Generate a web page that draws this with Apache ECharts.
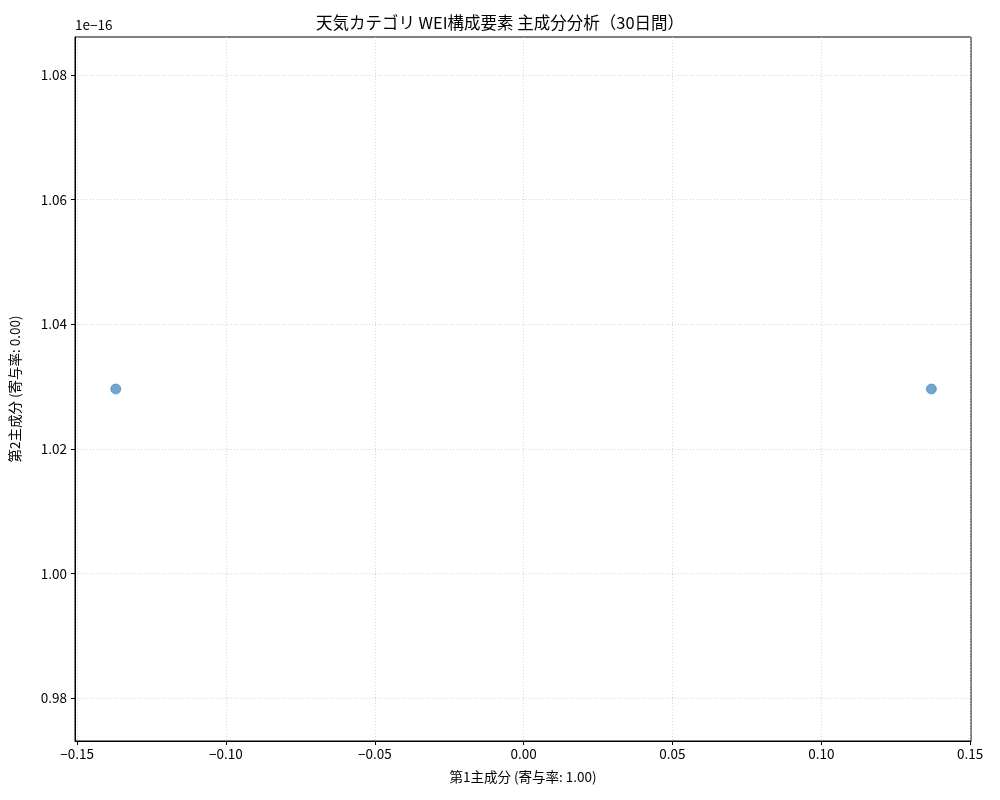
<!DOCTYPE html>
<html>
<head>
<meta charset="utf-8">
<script src="https://cdn.jsdelivr.net/npm/echarts@6/dist/echarts.min.js"></script>
<style>html,body{margin:0;padding:0;background:#fff;}#c{width:1000px;height:800px;}</style>
</head>
<body>
<div id="c"></div>
<script>
// Data (y values in units of 1e-16, as shown by the axis offset text)
const pc1 = [-0.137, 0.137];
const pc2 = [1.0296, 1.0296];
const xTicks = [-0.15, -0.10, -0.05, 0.00, 0.05, 0.10, 0.15];
const yTicks = [0.98, 1.00, 1.02, 1.04, 1.06, 1.08];
const titleText = '天気カテゴリ WEI構成要素 主成分分析（30日間）';
const xName = '第1主成分 (寄与率: 1.00)';
const yName = '第2主成分 (寄与率: 0.00)';
const yOffsetText = '1e\u221216';

const font = '"Noto Sans CJK JP", "Noto Sans", sans-serif';
const fmt = v => (v < 0 ? '\u2212' : '') + Math.abs(v).toFixed(2);
const chart = echarts.init(document.getElementById('c'));
const axisCommon = {
  axisLine: {show: true, onZero: false, lineStyle: {color: '#000', width: 1}},
  axisTick: {show: true, inside: false, length: 4, lineStyle: {color: '#000'}},
  axisLabel: {color: '#000', fontSize: 13.5, fontFamily: font, formatter: fmt},
  splitLine: {show: true, lineStyle: {color: '#cccccc', type: [1, 2], width: 0.8}}
};
chart.setOption({
  animation: false,
  backgroundColor: '#fff',
  title: {
    text: titleText, left: 'center', top: 9,
    textStyle: {fontSize: 16.5, fontWeight: 'normal', color: '#000', fontFamily: font}
  },
  graphic: [{
    type: 'text', left: 75, top: 18,
    style: {text: yOffsetText, fontSize: 13.5, fill: '#000', fontFamily: font}
  }],
  grid: {left: 75, right: 29, top: 37, bottom: 59, show: true, borderColor: '#000', borderWidth: 1, containLabel: false},
  xAxis: Object.assign({}, axisCommon, {
    type: 'value', min: -0.1507, max: 0.1503,
    name: xName, nameLocation: 'middle', nameGap: 29,
    nameTextStyle: {fontSize: 13.5, color: '#000', fontFamily: font},
    axisTick: Object.assign({}, axisCommon.axisTick, {customValues: xTicks}),
    axisLabel: Object.assign({}, axisCommon.axisLabel, {customValues: xTicks, margin: 6})
  }),
  yAxis: Object.assign({}, axisCommon, {
    type: 'value', min: 0.9731, max: 1.0861,
    name: yName, nameLocation: 'middle', nameGap: 53, nameRotate: 90,
    nameTextStyle: {fontSize: 13.5, color: '#000', fontFamily: font},
    axisTick: Object.assign({}, axisCommon.axisTick, {customValues: yTicks}),
    axisLabel: Object.assign({}, axisCommon.axisLabel, {customValues: yTicks, margin: 8})
  }),
  series: [{
    type: 'scatter',
    data: pc1.map((x, i) => [x, pc2[i]]),
    symbolSize: 10,
    itemStyle: {color: '#4a91c7', borderColor: '#3a86bf', borderWidth: 0.8}
  }]
});
</script>
</body>
</html>
